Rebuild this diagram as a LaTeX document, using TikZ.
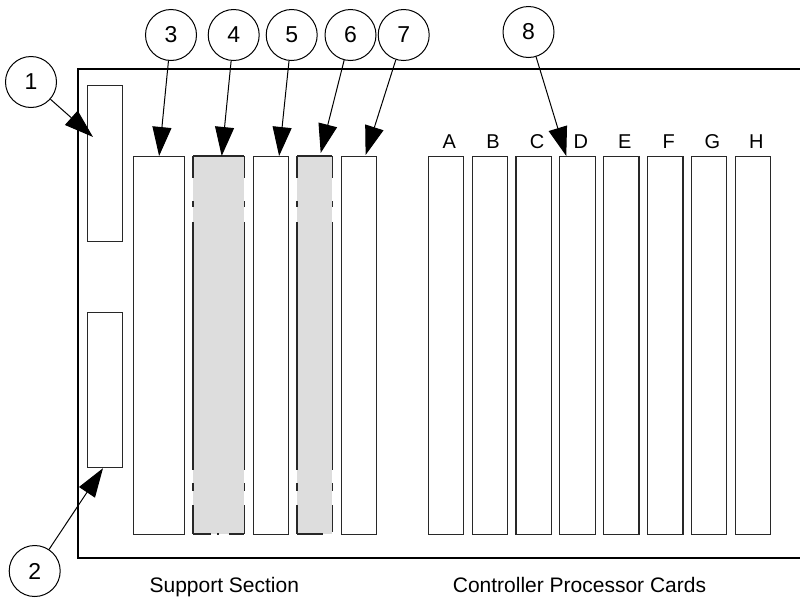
\documentclass[tikz,border=0pt]{standalone}
\usepackage{fontspec}
\setmainfont{Liberation Sans}
\usetikzlibrary{arrows.meta}
\definecolor{cardgray}{RGB}{221,221,221}
\definecolor{edgecol}{RGB}{40,40,40}
\begin{document}
\begin{tikzpicture}[x=1pt,y=-1pt,
  callout/.style={circle,draw,line width=1pt,fill=white,minimum size=51pt,inner sep=0pt,font=\fontsize{23}{23}\selectfont},
  card/.style={rectangle,draw=edgecol,line width=1.2pt,fill=white,inner sep=0pt,anchor=north west,minimum height=377.5pt},
  ghost/.style={rectangle,fill=cardgray,draw=none,inner sep=0pt,anchor=north west,minimum height=377.5pt},
  ghostedge/.style={draw=edgecol,line width=1.2pt},
  sidedash/.style={dash pattern=on 22pt off 23pt on 6pt off 15pt on 248pt off 13pt on 8pt off 14pt on 40pt},
  arr/.style={line width=1pt,-{Triangle[length=29pt,width=19pt]}},
  lbl/.style={font=\fontsize{20}{20}\selectfont,anchor=base},
  caption/.style={font=\fontsize{21}{21}\selectfont,anchor=base}]
\useasboundingbox (0,0) rectangle (800,600);
% chassis frame
\draw[line width=2pt] (800,69) -- (78,69) -- (78,558) -- (800,558);
% left slots
\node[card,minimum width=35pt,minimum height=156pt] (box1) at (87,85) {};
\node[card,minimum width=35pt,minimum height=155pt] (box2) at (87,312) {};
% support section cards
\node[card,minimum width=51pt] (card3) at (133,156) {};
\node[ghost,minimum width=51pt] (card4) at (193,156) {};
\draw[ghostedge,sidedash] (card4.north west) -- (card4.south west);
\draw[ghostedge,sidedash] (card4.north east) -- (card4.south east);
\draw[ghostedge] (card4.north west) -- (card4.north east);
\draw[ghostedge,dash pattern=on 18pt off 6pt on 2pt off 10pt on 20pt] (card4.south west) -- (card4.south east);
\node[card,minimum width=35pt] (card5) at (253,156) {};
\node[ghost,minimum width=35pt] (card6) at (297,156) {};
\draw[ghostedge,sidedash] (card6.north west) -- (card6.south west);
\draw[ghostedge,dash pattern=on 22pt off 23pt on 6pt off 15pt on 248pt off 13pt on 8pt off 14pt on 27pt off 3pt] (card6.north east) -- (card6.south east);
\draw[ghostedge] (card6.north west) -- (card6.north east);
\draw[ghostedge,dash pattern=on 26pt off 12pt] (card6.south west) -- (card6.south east);
\node[card,minimum width=35pt] (card7) at (341,156) {};
% controller processor cards
\foreach \L [count=\i from 0] in {A,B,C,D,E,F,G,H}{
  \node[card,minimum width=35.3pt] (card\L) at ({427.7+43.86*\i},156) {};
  \node[lbl] (lab\L) at ({449.3+43.86*\i},148.3) {\L};
}
% captions
\node[caption] (capS) at (224.3,592.5) {Support Section};
\node[caption] (capC) at (579.5,592.5) {Controller Processor Cards};
% callouts
\node[callout] (c1) at (31,82) {1};
\node[callout] (c2) at (34.7,571) {2};
\node[callout] (c3) at (171,35) {3};
\node[callout] (c4) at (233.7,35) {4};
\node[callout] (c5) at (291.7,35) {5};
\node[callout] (c6) at (350.5,35) {6};
\node[callout] (c7) at (403.7,35) {7};
\node[callout] (c8) at (528.5,32) {8};
% arrow targets
\coordinate (t1) at ([xshift=6pt,yshift=-52pt]box1.north west);
\coordinate (t2) at ([xshift=16pt]box2.south west);
\coordinate (t3) at (card3.north);
\coordinate (t4) at ([xshift=3pt]card4.north);
\coordinate (t5) at ([xshift=8pt]card5.north);
\coordinate (t6) at ([xshift=6pt,yshift=3pt]card6.north);
\coordinate (t7) at ([xshift=6.5pt,yshift=1pt]card7.north);
\coordinate (t8) at ([xshift=7pt]cardD.north west);
% arrows
\draw[arr] (c1) -- (t1);
\draw[arr] (c2) -- (t2);
\draw[arr] (c3) -- (t3);
\draw[arr] (c4) -- (t4);
\draw[arr] (c5) -- (t5);
\draw[arr] (c6) -- (t6);
\draw[arr] (c7) -- (t7);
\draw[arr] (c8) -- (t8);
\end{tikzpicture}
\end{document}
